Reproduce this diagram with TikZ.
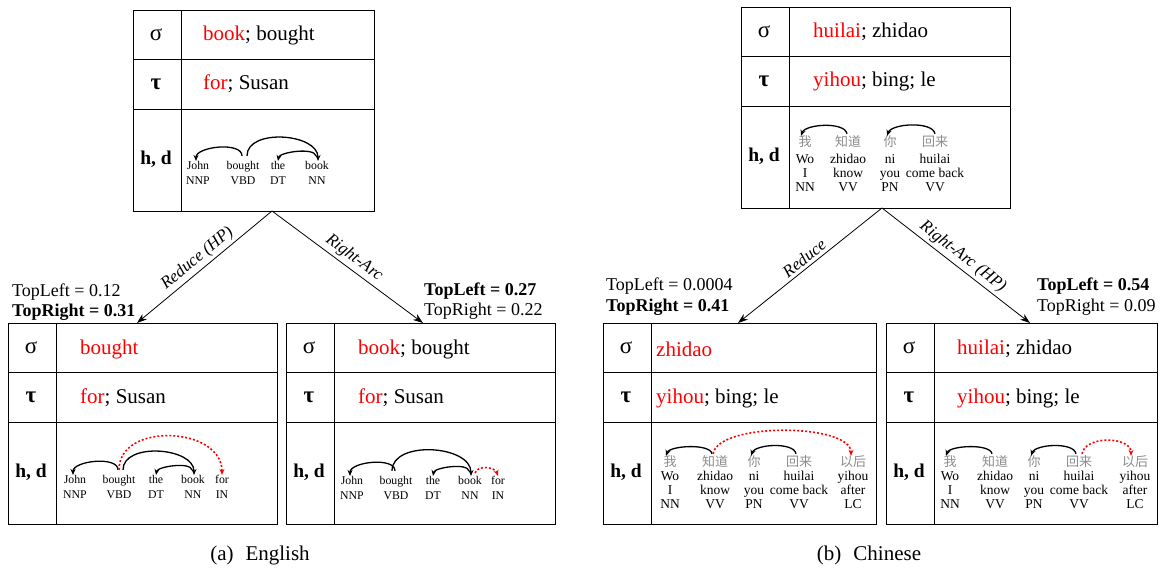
\documentclass[tikz,border=0pt]{standalone}
\usepackage{fontspec}
\setmainfont{Liberation Serif}
\newfontfamily\cjk{Noto Sans CJK SC}
\usetikzlibrary{arrows.meta}

\newcommand{\hl}[1]{\textcolor{red}{#1}}

\tikzset{
  boxline/.style={line width=1pt},
  sym/.style={inner sep=0pt, font=\fontsize{23}{23}\selectfont},
  hd/.style={inner sep=0pt, font=\bfseries\fontsize{19.5}{20}\selectfont},
  cell/.style={anchor=west, inner sep=0pt, font=\fontsize{21}{21}\selectfont},
  word/.style={align=center, inner sep=0pt, font=\fontsize{11.8}{15.5}\selectfont},
  cword/.style={align=center, inner sep=0pt, font=\fontsize{13.5}{14}\selectfont},
  hanzi/.style={inner sep=0pt, text=black!45, font=\cjk\fontsize{13}{13}\selectfont},
  dep/.style={-{Stealth[length=6pt,width=5pt]}, line width=1.3pt},
  newdep/.style={dep, red, dash pattern=on 2pt off 2pt, line width=1.6pt},
  trans/.style={-{Stealth[length=10pt,width=7pt]}, line width=0.8pt},
  tlab/.style={inner sep=3pt, font=\itshape\fontsize{17}{17}\selectfont},
  score/.style={anchor=west, inner sep=0pt, font=\fontsize{18}{18}\selectfont},
  capt/.style={inner sep=0pt, font=\fontsize{21}{21}\selectfont}
}

% box: name, left, top, width
\newcommand{\tbox}[4]{%
  \draw[boxline] (#2,#3) rectangle ++(#4,201);
  \draw[boxline] (#2+48,#3) -- ++(0,201);
  \draw[boxline] (#2,#3+49) -- ++(#4,0);
  \draw[boxline] (#2,#3+99) -- ++(#4,0);
  \node[sym] (#1s) at (#2+23,#3+25) {σ};
  \node[sym] (#1t) at (#2+23,#3+74) {\textbf{τ}};
  \node[hd] (#1h) at (#2+23,#3+149) {h, d};
}

\begin{document}
\begin{tikzpicture}[x=1pt,y=-1pt]
\useasboundingbox (0,0) rectangle (1165,570);

% (a) English
\tbox{a0}{133}{10}{241}
\node[cell] (a0sc) at (203,35) {\hl{book}; bought};
\node[cell] (a0tc) at (203,84) {\hl{for}; Susan};
\node[word] (a0w1) at (198,173) {John\\NNP};
\node[word] (a0w2) at (243,173) {bought\\VBD};
\node[word] (a0w3) at (278,173) {the\\DT};
\node[word] (a0w4) at (317,173) {book\\NN};
\draw[dep] ([xshift=-1pt,yshift=5pt]a0w2.north) to[out=90,in=90,looseness=.8] ([xshift=-2pt]a0w1.north);
\draw[dep] ([xshift=4pt,yshift=5pt]a0w2.north) to[out=90,in=90] ([xshift=1pt]a0w4.north);
\draw[dep] ([xshift=-1pt,yshift=5pt]a0w4.north) to[out=100,in=80,looseness=.6] (a0w3.north);

\tbox{a1}{8}{323}{269}
\node[cell] (a1sc) at (80,349) {\hl{bought}};
\node[cell] (a1tc) at (80,398) {\hl{for}; Susan};
\node[word] (a1w1) at (75,487) {John\\NNP};
\node[word] (a1w2) at (119,487) {bought\\VBD};
\node[word] (a1w3) at (156,487) {the\\DT};
\node[word] (a1w4) at (193,487) {book\\NN};
\node[word] (a1w5) at (222,487) {for\\IN};
\draw[dep] ([xshift=-1pt,yshift=5pt]a1w2.north) to[out=90,in=90,looseness=.8] ([xshift=-2pt]a1w1.north);
\draw[dep] ([xshift=4pt,yshift=5pt]a1w2.north) to[out=90,in=90] ([xshift=1pt]a1w4.north);
\draw[dep] ([xshift=-1pt,yshift=5pt]a1w4.north) to[out=100,in=80,looseness=.6] (a1w3.north);
\draw[newdep] ([xshift=0pt,yshift=5pt]a1w2.north) to[out=90,in=90,looseness=1.2] (a1w5.north);

\tbox{a2}{286}{323}{269}
\node[cell] (a2sc) at (358,349) {\hl{book}; bought};
\node[cell] (a2tc) at (358,398) {\hl{for}; Susan};
\node[word] (a2w1) at (352,488) {John\\NNP};
\node[word] (a2w2) at (396,488) {bought\\VBD};
\node[word] (a2w3) at (433,488) {the\\DT};
\node[word] (a2w4) at (470,488) {book\\NN};
\node[word] (a2w5) at (498,488) {for\\IN};
\draw[dep] ([xshift=-1pt,yshift=5pt]a2w2.north) to[out=90,in=90,looseness=.8] ([xshift=-2pt]a2w1.north);
\draw[dep] ([xshift=-4pt,yshift=5pt]a2w2.north) to[out=90,in=90] ([xshift=1pt]a2w4.north);
\draw[dep] ([xshift=-1pt,yshift=5pt]a2w4.north) to[out=100,in=80,looseness=.6] (a2w3.north);
\draw[newdep] ([xshift=5pt,yshift=3pt]a2w4.north) to[out=70,in=110] (a2w5.north);

\coordinate (a0b) at (272,211);
\coordinate (a1p) at (137,323);
\coordinate (a2p) at (423,323);
\draw[trans] (a0b) -- node[tlab, above, sloped] {Reduce (HP)} (a1p);
\draw[trans] (a0b) -- node[tlab, above, sloped] {Right-Arc} (a2p);
\node[score] (a1l) at (12,292) {TopLeft = 0.12};
\node[score] (a1r) at (12,312) {\textbf{TopRight = 0.31}};
\node[score] (a2l) at (424,291) {\textbf{TopLeft = 0.27}};
\node[score] (a2r) at (424,311) {TopRight = 0.22};
\node[capt] (acap) at (260,555) {(a)\hspace{12pt}English};

% (b) Chinese
\tbox{b0}{741}{7}{269}
\node[cell] (b0sc) at (813,32) {\hl{huilai}; zhidao};
\node[cell] (b0tc) at (813,81) {\hl{yihou}; bing; le};
\node[hanzi] (b0c1) at (805,142) {我};
\node[hanzi] (b0c2) at (848,142) {知道};
\node[hanzi] (b0c3) at (890,142) {你};
\node[hanzi] (b0c4) at (935,142) {回来};
\node[cword] (b0w1) at (805,173) {Wo\\I\\NN};
\node[cword] (b0w2) at (848,173) {zhidao\\know\\VV};
\node[cword] (b0w3) at (890,173) {ni\\you\\PN};
\node[cword] (b0w4) at (935,173) {huilai\\come back\\VV};
\draw[dep] ([xshift=-1pt,yshift=2pt]b0c2.north) to[out=100,in=70,looseness=.7] ([xshift=-4pt]b0c1.north);
\draw[dep] ([xshift=0pt,yshift=2pt]b0c4.north) to[out=100,in=70,looseness=.7] ([xshift=-3pt]b0c3.north);

\tbox{b1}{603}{323}{273}
\node[cell] (b1sc) at (656,349) {\hl{zhidao}};
\node[cell] (b1tc) at (656,398) {\hl{yihou}; bing; le};
\node[hanzi] (b1c1) at (670,462) {我};
\node[hanzi] (b1c2) at (715,462) {知道};
\node[hanzi] (b1c3) at (754,462) {你};
\node[hanzi] (b1c4) at (799,462) {回来};
\node[hanzi] (b1c5) at (853,462) {以后};
\node[cword] (b1w1) at (670,490) {Wo\\I\\NN};
\node[cword] (b1w2) at (715,490) {zhidao\\know\\VV};
\node[cword] (b1w3) at (754,490) {ni\\you\\PN};
\node[cword] (b1w4) at (799,490) {huilai\\come back\\VV};
\node[cword] (b1w5) at (853,490) {yihou\\after\\LC};
\draw[dep] ([xshift=-3pt,yshift=2pt]b1c2.north) to[out=100,in=70,looseness=.6] ([xshift=-4pt]b1c1.north);
\draw[dep] ([xshift=-3pt,yshift=2pt]b1c4.north) to[out=100,in=70,looseness=.7] ([xshift=-3pt]b1c3.north);
\draw[newdep] ([xshift=-2pt,yshift=2pt]b1c2.north) to[out=80,in=90,looseness=.6] ([xshift=-2pt]b1c5.north);

\tbox{b2}{886}{323}{271}
\node[cell] (b2sc) at (957,349) {\hl{huilai}; zhidao};
\node[cell] (b2tc) at (957,398) {\hl{yihou}; bing; le};
\node[hanzi] (b2c1) at (950,462) {我};
\node[hanzi] (b2c2) at (995,462) {知道};
\node[hanzi] (b2c3) at (1034,462) {你};
\node[hanzi] (b2c4) at (1079,462) {回来};
\node[hanzi] (b2c5) at (1135,462) {以后};
\node[cword] (b2w1) at (950,490) {Wo\\I\\NN};
\node[cword] (b2w2) at (995,490) {zhidao\\know\\VV};
\node[cword] (b2w3) at (1034,490) {ni\\you\\PN};
\node[cword] (b2w4) at (1079,490) {huilai\\come back\\VV};
\node[cword] (b2w5) at (1135,490) {yihou\\after\\LC};
\draw[dep] ([xshift=-3pt,yshift=2pt]b2c2.north) to[out=100,in=70,looseness=.6] ([xshift=-4pt]b2c1.north);
\draw[dep] ([xshift=-3pt,yshift=2pt]b2c4.north) to[out=100,in=70,looseness=.7] ([xshift=-3pt]b2c3.north);
\draw[newdep] ([xshift=3pt,yshift=2pt]b2c4.north) to[out=80,in=90] ([xshift=-4pt]b2c5.north);

\coordinate (b0b) at (882,208);
\coordinate (b1p) at (738,323);
\coordinate (b2p) at (1030,323);
\draw[trans] (b0b) -- node[tlab, above, sloped] {Reduce} (b1p);
\draw[trans] (b0b) -- node[tlab, above, sloped] {Right-Arc (HP)} (b2p);
\node[score] (b1l) at (606,286) {TopLeft = 0.0004};
\node[score] (b1r) at (606,307) {\textbf{TopRight = 0.41}};
\node[score] (b2l) at (1037,286) {\textbf{TopLeft = 0.54}};
\node[score] (b2r) at (1037,307) {TopRight = 0.09};
\node[capt] (bcap) at (869,555) {(b)\hspace{12pt}Chinese};
\end{tikzpicture}
\end{document}
